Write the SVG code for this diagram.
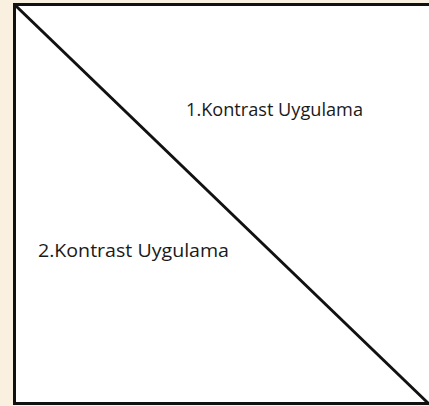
<svg xmlns="http://www.w3.org/2000/svg" width="429" height="406" viewBox="0 0 429 406">
<style>
.lbl{font-family:"Open Sans","Liberation Sans",sans-serif;fill:#1a1a1a}
</style>
<rect x="0" y="0" width="429" height="406" fill="#FAF0E0"/>
<g id="square">
<rect x="14.5" y="4.5" width="430" height="399" fill="#FFFFFF" stroke="#111111" stroke-width="3"/>
</g>
<g id="connectors">
<line x1="16" y1="6" x2="428" y2="403" stroke="#111111" stroke-width="3"/>
</g>
<g id="label1">
<text class="lbl" x="186" y="116" font-size="18" textLength="177" lengthAdjust="spacingAndGlyphs">1.Kontrast Uygulama</text>
</g>
<g id="label2">
<text class="lbl" x="38" y="257" font-size="19" textLength="191" lengthAdjust="spacingAndGlyphs">2.Kontrast Uygulama</text>
</g>
</svg>
